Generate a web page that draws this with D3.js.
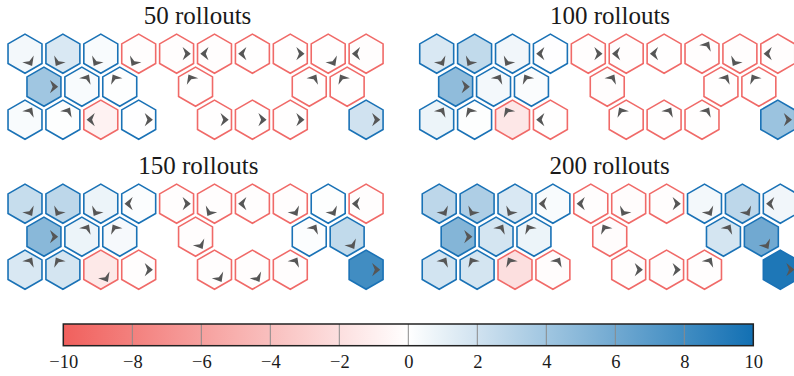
<!DOCTYPE html>
<html><head><meta charset="utf-8">
<script src="https://cdn.jsdelivr.net/npm/d3@7"></script>
<style>
body{margin:0;background:#fff;} svg{display:block}
.serif{font-family:"Liberation Serif","Times New Roman",Times,serif;}
</style>
</head><body><svg id="chart" width="794" height="376"></svg>
<script>
// ---------- DATA ----------
const panelTitles = ["50 rollouts", "100 rollouts", "150 rollouts", "200 rollouts"];
// hex grid cells: row and column index of each cell
const cellRows = [0,0,0,0,0,0,0,0,0,0, 1,1,1,1,1,1, 2,2,2,2,2,2,2,2];
const cellCols = [0,1,2,3,4,5,6,7,8,9, 0,1,2,4,7,8, 0,1,2,3,5,6,7,9];

const values50  = [0.5,1.6,0.3,-0.1,-0.1,-0.1,-0.05,-0.05,-0.05,-0.1,  4.0,0.3,0.1,-0.05,-0.05,-0.05,  0.3,0.1,-0.8,0.05,-0.05,-0.05,-0.05,2.0];
const values100 = [1.6,2.6,0.6,0.05,-0.15,-0.1,-0.05,-0.1,-0.1,-0.1,  4.7,0.5,0.2,-0.1,-0.05,-0.05,  0.8,0.1,-1.5,-0.05,-0.05,-0.05,-0.05,4.2];
const values150 = [2.4,2.8,0.8,0.15,-0.15,-0.15,-0.1,-0.1,0.1,-0.1,  5.0,0.8,0.4,-0.15,0.15,2.6,  1.6,1.8,-1.4,-0.1,-0.15,-0.1,-0.1,8.0];
const values200 = [2.8,3.4,1.6,0.3,-0.15,-0.2,-0.15,0.5,2.8,0.6,  5.2,1.8,0.8,-0.2,1.8,6.0,  1.9,1.8,-2.0,-0.2,-0.15,-0.15,-0.15,9.5];

const dirs50  = ["SE","SW","SW","SW","E","W","W","E","SE","W",  "E","NE","NW","NW","NE","NW",  "NE","NE","W","E","E","E","E","E"];
const dirs100 = ["SE","SW","SW","W","E","W","W","NE","SW","W",  "E","NE","NW","NE","NE","NW",  "NE","NW","NW","W","NW","NE","NE","E"];
const dirs150 = ["SE","SW","SW","W","E","SW","W","SE","SE","W",  "E","NE","NW","SE","NE","SE",  "NE","NW","SE","E","SE","SE","NE","E"];
const dirs200 = ["SE","SW","SW","W","W","SW","E","SE","SE","W",  "E","NE","NW","NW","NE","SE",  "NE","NW","NW","NE","E","E","NE","E"];

const colorTicks = [-10,-8,-6,-4,-2,0,2,4,6,8,10];

// ---------- LAYOUT ----------
const panels = [
  {title: panelTitles[0], values: values50,  dirs: dirs50,  x0: 25,    y0: 53.7,  tx: 197.5, ty: 23.5},
  {title: panelTitles[1], values: values100, dirs: dirs100, x0: 436.7, y0: 53.7,  tx: 610,   ty: 23.5},
  {title: panelTitles[2], values: values150, dirs: dirs150, x0: 25,    y0: 203.7, tx: 198.3, ty: 173.5},
  {title: panelTitles[3], values: values200, dirs: dirs200, x0: 439.2, y0: 203.7, tx: 609.7, ty: 173.5}
];

const RED = "#f0605d", BLUE = "#1270b3";
const color = d3.scaleLinear().domain([-10, 0, 10]).range([RED, "#ffffff", BLUE]).interpolate(d3.interpolateRgb);
const outlineRed = "#f06a68", outlineBlue = "#1a72b6";

const colStep = 37.9, rowStep = 33;
const xCol = d3.scaleLinear().domain([0, 1]).range([0, colStep]);
const yRow = d3.scaleLinear().domain([0, 1]).range([0, rowStep]);
const hexR = 19.6;
const dirAngle = {E: 0, W: 180, NE: -60, NW: -120, SE: 60, SW: 120};

const svg = d3.select("#chart");

function hexPath(r) {
  const p = d3.path();
  for (let k = 0; k < 6; k++) {
    const a = (Math.PI / 180) * (-90 + 60 * k);
    const x = r * Math.cos(a), y = r * Math.sin(a);
    if (k === 0) p.moveTo(x, y); else p.lineTo(x, y);
  }
  p.closePath();
  return p.toString();
}
const arrowPath = "M4.2,0 L-4,-6.6 L-1.3,0 L-4,6.6 Z";

panels.forEach(pn => {
  const g = svg.append("g");
  g.append("text")
    .attr("class", "serif")
    .attr("x", pn.tx).attr("y", pn.ty)
    .attr("text-anchor", "middle")
    .style("font-size", "25px")
    .attr("fill", "#1a1a1a")
    .text(pn.title);

  const cells = cellRows.map((r, i) => ({
    row: r, col: cellCols[i], v: pn.values[i], dir: pn.dirs[i]
  }));
  const cg = g.selectAll("g.cell").data(cells).enter().append("g")
    .attr("class", "cell")
    .attr("transform", d => `translate(${pn.x0 + xCol(d.col + (d.row % 2) * 0.5)},${pn.y0 + yRow(d.row)})`);
  cg.append("path")
    .attr("d", hexPath(hexR))
    .attr("fill", d => color(d.v))
    .attr("stroke", d => d.v >= 0 ? outlineBlue : outlineRed)
    .attr("stroke-width", 1.6)
    .attr("stroke-linejoin", "miter");
  cg.append("path")
    .attr("d", arrowPath)
    .attr("fill", "#565656")
    .attr("transform", d => {
      const a = dirAngle[d.dir];
      const rad = a * Math.PI / 180;
      return `translate(${10 * Math.cos(rad)},${10 * Math.sin(rad)}) rotate(${a})`;
    });
});

// ---------- COLORBAR ----------
const cbX0 = 63.3, cbX1 = 753.3, cbY = 324, cbH = 21.7;
const xc = d3.scaleLinear().domain([-10, 10]).range([cbX0, cbX1]);
const defs = svg.append("defs");
const grad = defs.append("linearGradient").attr("id", "cbgrad").attr("x1", "0%").attr("x2", "100%");
d3.range(0, 21).forEach(i => {
  const v = -10 + i;
  grad.append("stop").attr("offset", (i / 20 * 100) + "%").attr("stop-color", color(v));
});
svg.append("rect").attr("x", cbX0).attr("y", cbY).attr("width", cbX1 - cbX0).attr("height", cbH)
  .attr("fill", "url(#cbgrad)");
svg.selectAll("line.cbgrid").data(colorTicks.slice(1, -1)).enter().append("line")
  .attr("class", "cbgrid")
  .attr("x1", d => xc(d)).attr("x2", d => xc(d))
  .attr("y1", cbY).attr("y2", cbY + cbH)
  .attr("stroke", "#8a8a8a").attr("stroke-width", 1);
svg.append("rect").attr("x", cbX0).attr("y", cbY).attr("width", cbX1 - cbX0).attr("height", cbH)
  .attr("fill", "none").attr("stroke", "#222").attr("stroke-width", 1.5);

const axis = d3.axisBottom(xc).tickValues(colorTicks).tickSize(0).tickPadding(0)
  .tickFormat(d => (d < 0 ? "\u2212" : "") + Math.abs(d));
const ag = svg.append("g").attr("transform", `translate(0,${cbY + cbH})`).call(axis);
ag.select(".domain").remove();
ag.attr("font-family", null).attr("font-size", null);
ag.selectAll("text")
  .attr("class", "serif")
  .attr("dy", null).attr("y", 22)
  .style("font-size", "18.5px")
  .attr("fill", "#1a1a1a");
</script>
</body></html>
